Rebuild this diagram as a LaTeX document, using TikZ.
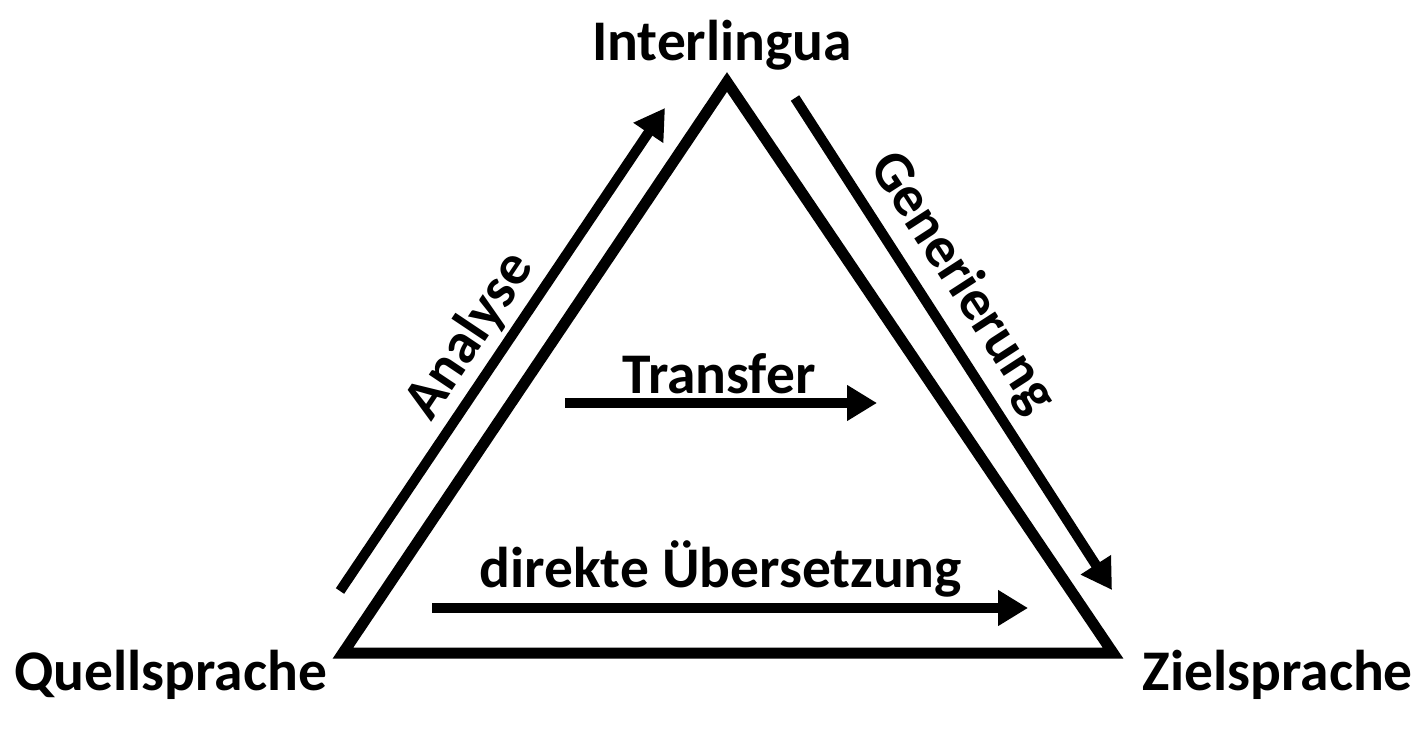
\documentclass[tikz,border=0pt]{standalone}
\usepackage{fontspec}
\setmainfont{Carlito}
\usetikzlibrary{arrows.meta}
\begin{document}
\begin{tikzpicture}[x=1pt,y=-1pt,
  lbl/.style={font=\bfseries\fontsize{57.5}{66}\selectfont, inner sep=0pt},
  arr/.style={line width=10pt, -{Triangle[length=30pt,width=34pt]}},
  tri/.style={line width=11pt, line join=miter}]
\useasboundingbox (0,0) rectangle (1425,735);
% triangle corners
\coordinate (T) at (727,82);
\coordinate (L) at (343,653);
\coordinate (R) at (1113,653);
\draw[tri] (L) -- (T) -- (R) -- cycle;
% corner labels
\node[lbl, anchor=base] (inter) at (722,61) {Interlingua};
\node[lbl, anchor=base west] (quell) at (14,690) {Quellsprache};
\node[lbl, anchor=base east] (ziel) at (1413,690) {Zielsprache};
% arrows
\coordinate (a1) at (340,591);
\coordinate (a2) at (665,108);
\draw[arr] (a1) -- (a2);
\coordinate (g1) at (795,98);
\coordinate (g2) at (1112,590);
\draw[arr] (g1) -- (g2);
\coordinate (t1) at (565,403);
\coordinate (t2) at (877,403);
\draw[arr] (t1) -- (t2);
\coordinate (d1) at (432,608);
\coordinate (d2) at (1028,608);
\draw[arr] (d1) -- (d2);
% arrow labels
\node[lbl, rotate=56.2] (ana) at (470,336) {Analyse};
\node[lbl, rotate=-57.1] (gen) at (962,283) {Generierung};
\node[lbl, anchor=base] (trans) at (719,393) {Transfer};
\node[lbl, anchor=base] (dir) at (721,587) {direkte Übersetzung};
\end{tikzpicture}
\end{document}
